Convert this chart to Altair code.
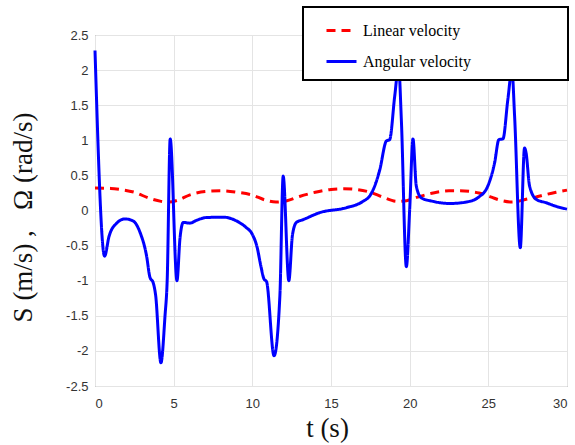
import altair as alt
import pandas as pd

series_names = ["Linear velocity", "Angular velocity"]
x_ticks = [0, 5, 10, 15, 20, 25, 30]
y_ticks = [-2.5, -2, -1.5, -1, -0.5, 0, 0.5, 1, 1.5, 2, 2.5]

t_lin = [0, 1.0, 1.6, 2.5, 3.5, 4.2, 4.7, 5.3, 6.0, 7.0, 8.0, 9.0, 10.0, 10.8, 11.5,
         12.2, 13.0, 14.0, 15.0, 15.8, 16.6, 17.5, 18.3, 19.2, 19.8, 20.5, 21.5,
         22.5, 23.2, 24.4, 25.2, 25.7, 26.5, 27.4, 28.0, 28.7, 29.3, 30.0]
v_lin = [0.32, 0.315, 0.30, 0.26, 0.17, 0.13, 0.12, 0.15, 0.22, 0.27, 0.28, 0.26,
         0.22, 0.15, 0.12, 0.14, 0.20, 0.26, 0.30, 0.31, 0.30, 0.26, 0.19, 0.13,
         0.14, 0.19, 0.25, 0.28, 0.28, 0.25, 0.19, 0.15, 0.12, 0.16, 0.19, 0.23,
         0.26, 0.29]

t_ang = [0, 0.61, 0.89, 1.38, 1.9, 2.43, 2.86, 3.28, 3.49, 3.7, 3.85, 4.19, 4.45,
         4.59, 4.78, 5.21, 5.4, 5.61, 6.03, 6.45, 7.09, 8.15, 9.2, 9.6, 10.0, 10.3,
         10.55, 10.75, 10.9, 11.38, 11.75, 11.96, 12.32, 12.55, 12.8, 13.23, 14.29,
         15.98, 17.03, 17.5, 17.78, 18.1, 18.52, 18.73, 19.05, 19.3, 19.47, 19.79,
         20.0, 20.21, 20.42, 20.74, 21.48, 22.54, 23.6, 24.44, 24.97, 25.4, 25.67,
         25.93, 26.24, 26.5, 26.67, 27.03, 27.3, 27.4, 27.62, 28.04, 28.68, 29.3, 30.0]
v_ang = [2.28, -0.65, -0.37, -0.18, -0.12, -0.15, -0.31, -0.65, -0.95, -1.03, -1.2,
         -2.17, -1.5, -0.98, 1.02, -1.0, -0.4, -0.17, -0.18, -0.14, -0.10, -0.095,
         -0.175, -0.24, -0.34, -0.52, -0.8, -0.98, -1.01, -2.07, -1.22, 0.49, -1.0,
         -0.35, -0.17, -0.13, -0.03, 0.04, 0.13, 0.22, 0.35, 0.58, 0.99, 1.01, 1.63,
         2.05, 1.3, -0.80, 0.01, 1.02, 0.35, 0.18, 0.13, 0.10, 0.12, 0.20, 0.35, 0.68,
         1.01, 1.02, 1.58, 2.0, 1.34, -0.53, 0.89, 0.82, 0.35, 0.16, 0.11, 0.06, 0.02]

lin_df = pd.DataFrame({"t": t_lin, "v": v_lin, "series": series_names[0]})
ang_df = pd.DataFrame({"t": t_ang, "v": v_ang, "series": series_names[1]})

color_scale = alt.Scale(domain=series_names, range=["#ff0000", "#0000ff"])
dash_scale = alt.Scale(domain=series_names, range=[[9, 6], [1, 0]])

legend = alt.Legend(
    orient="none", legendX=230, legendY=-21, title=None, direction="vertical",
    symbolType="stroke", symbolSize=900, symbolStrokeWidth=3,
    labelFont="Liberation Serif", labelFontSize=16, labelColor="black",
    labelOffset=5, rowPadding=6, padding=0,
)

x_enc = alt.X(
    "t:Q",
    scale=alt.Scale(domain=[0, 30], nice=False, zero=False),
    axis=alt.Axis(
        values=x_ticks, title="t (s)", labelExpr="toString(datum.value)",
        titleX=232, titleY=50, titleBaseline="alphabetic", titleAlign="center",
    ),
)
y_enc = alt.Y(
    "v:Q",
    scale=alt.Scale(domain=[-2.5, 2.5], nice=False, zero=False),
    axis=alt.Axis(
        values=y_ticks, title="S (m/s) ,\u00a0\u00a0 \u03a9 (rad/s)",
        labelExpr="toString(datum.value)",
        titleX=-72, titleY=182, titleAngle=270, titleBaseline="middle",
        titleAlign="center",
    ),
)

def line_layer(df):
    return alt.Chart(df).mark_line(strokeWidth=3, interpolate="monotone").encode(
        x=x_enc,
        y=y_enc,
        color=alt.Color("series:N", scale=color_scale, legend=legend),
        strokeDash=alt.StrokeDash("series:N", scale=dash_scale, legend=legend),
    )

red = line_layer(lin_df)
blue = line_layer(ang_df)

box = alt.Chart(alt.Data(values=[{"k": 1}])).mark_rect(
    fill="white", stroke="black", strokeWidth=2
).encode(
    x=alt.value(208), x2=alt.value(473), y=alt.value(-28), y2=alt.value(45)
)

chart = alt.layer(red, blue, box).properties(
    width=472, height=351,
    padding={"left": 95, "top": 35, "right": 8, "bottom": 59},
    autosize=alt.AutoSizeParams(type="none"),
    background="white",
).configure_view(
    stroke="#6e6e6e", strokeWidth=1
).configure_axis(
    grid=True, gridColor="#e4e4e4", gridWidth=1,
    domain=False, ticks=False,
    labelFont="Liberation Sans", labelFontSize=13, labelColor="#333333",
    titleFont="Liberation Serif", titleFontSize=27, titleColor="#111111",
    titleFontWeight="normal",
).configure_axisY(
    labelPadding=7
).configure_axisX(
    labelPadding=11
)

chart.save("out.html", embed_options={"renderer": "svg", "actions": False})
